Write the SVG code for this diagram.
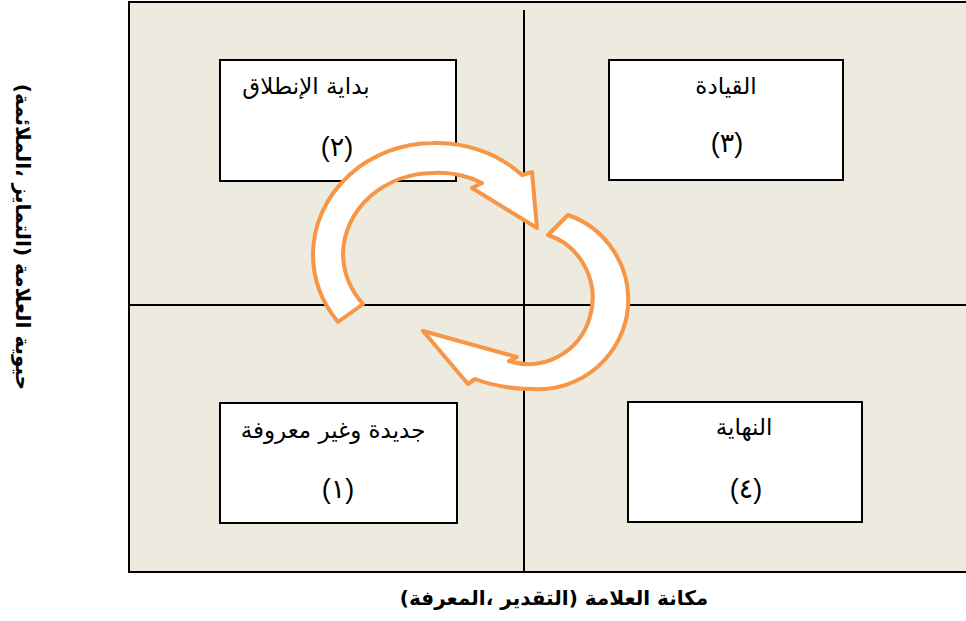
<svg xmlns="http://www.w3.org/2000/svg" width="966" height="621" viewBox="0 0 966 621">
  <style>
    .frame { fill: #EDEAE0; stroke: #000; stroke-width: 2; }
    .axis { stroke: #000; stroke-width: 2; fill: none; }
    .box { fill: #fff; stroke: #000; stroke-width: 2; }
    .title { font-family: "DejaVu Sans", "Liberation Sans", sans-serif; font-size: 23px; fill: #000; text-anchor: middle; direction: rtl; }
    .num { font-family: "Liberation Sans", "DejaVu Sans", sans-serif; font-size: 27px; fill: #000; text-anchor: middle; }
    .label { font-family: "DejaVu Sans", "Liberation Sans", sans-serif; font-size: 20px; font-weight: bold; fill: #000; text-anchor: middle; direction: rtl; }
    .cycle { fill: #fff; stroke: #F79646; stroke-width: 4; stroke-linejoin: round; }
  </style>

  <!-- quadrant field -->
  <rect class="frame" x="129" y="2" width="840" height="570"/>
  <line class="axis" x1="524" y1="10" x2="524" y2="572"/>
  <line class="axis" x1="130" y1="305" x2="966" y2="305"/>

  <!-- stage boxes -->
  <g id="stage2">
    <rect class="box" x="220" y="60" width="236" height="121"/>
    <text class="title" x="306" y="94">بداية الإنطلاق</text>
    <text class="num" x="337" y="156">(٢)</text>
  </g>
  <g id="stage3">
    <rect class="box" x="609" y="60" width="234" height="120"/>
    <text class="title" x="726" y="94">القيادة</text>
    <text class="num" x="727" y="152">(٣)</text>
  </g>
  <g id="stage1">
    <rect class="box" x="220" y="403" width="237" height="120"/>
    <text class="title" x="333" y="438">جديدة وغير معروفة</text>
    <text class="num" x="338" y="498">(١)</text>
  </g>
  <g id="stage4">
    <rect class="box" x="628" y="402" width="234" height="120"/>
    <text class="title" x="744" y="435">النهاية</text>
    <text class="num" x="746" y="498">(٤)</text>
  </g>

  <!-- circular block arrows -->
  <g id="connectors">
    <path class="cycle" d="M338,322 A121,112 0 0 1 313,253 A121,112 0 0 1 433,143 A121,112 0 0 1 522,175 L532,172 L537,228 L472,188 L482,183 A91,82 0 0 0 433,173 A91,82 0 0 0 343,253 A91,82 0 0 0 363,304 Z"/>
    <path class="cycle" d="M568,215 A90,90 0 0 1 628,307 A90,90 0 0 1 533,389 A130,100 0 0 1 475,379 L468,384 L423,331 L517,357 L509,361 A64,66 0 1 0 548,235 Z"/>
  </g>

  <!-- axis titles -->
  <text class="label" x="554" y="605">مكانة العلامة (التقدير ،المعرفة)</text>
  <text class="label" transform="translate(16,237) rotate(90)" x="0" y="0">حيوية العلامة (التمايز ،الملائمة)</text>
</svg>
